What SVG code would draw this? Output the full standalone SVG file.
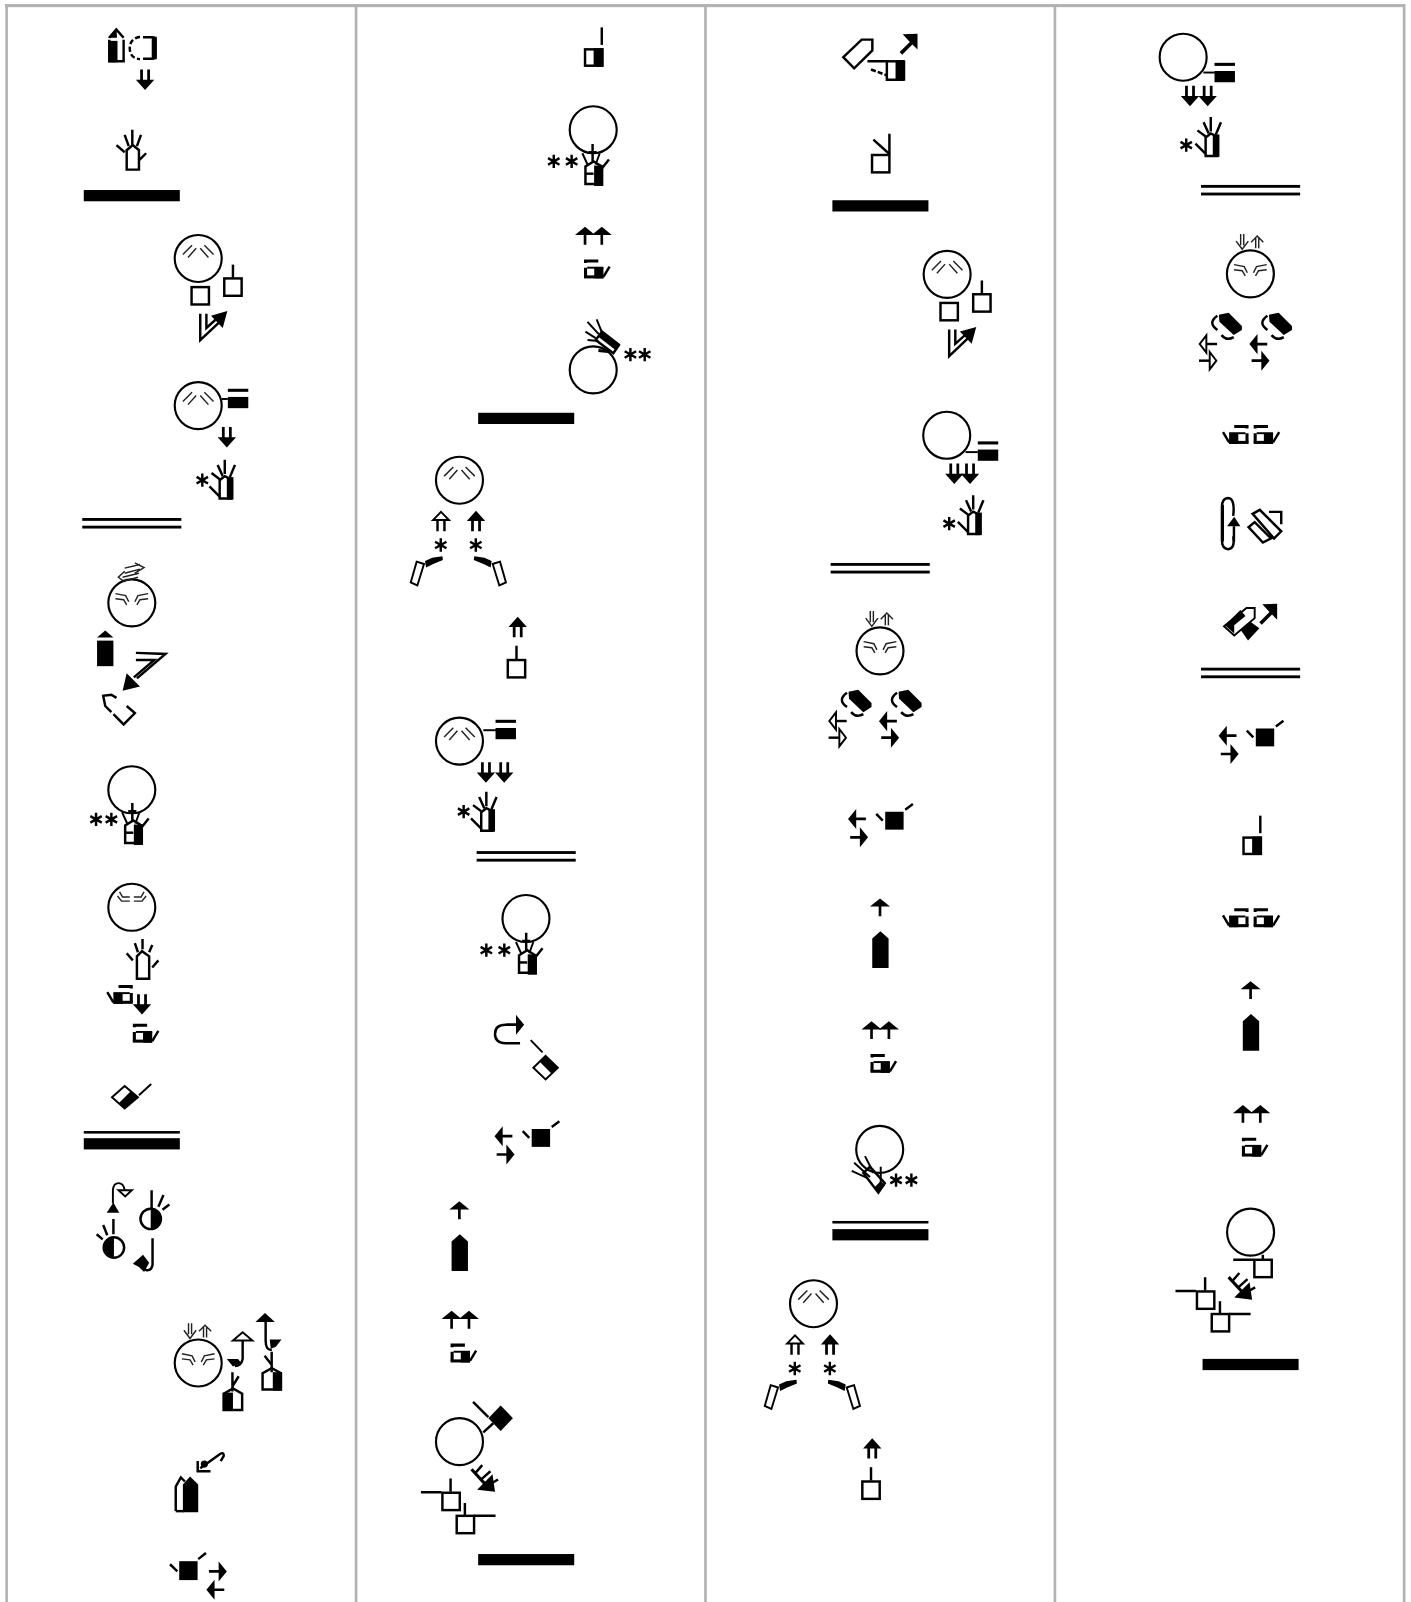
<svg xmlns="http://www.w3.org/2000/svg" width="1411" height="1602" viewBox="0 0 1411 1602">
<style>
.l{stroke:#000;stroke-width:2.4;fill:none}
.m{stroke:#000;stroke-width:1.9;fill:none}
.t{stroke:#222;stroke-width:1.4;fill:none}
.h{stroke:#000;stroke-width:3;fill:none}
.k{fill:#000;stroke:none}
.w{fill:#fff;stroke:#000;stroke-width:1.9}
.g{fill:#b2b2b2;stroke:none}
</style>
<defs>
<circle id="c" r="23" fill="none" stroke="#000" stroke-width="2.1"/>
<g id="fb"><use href="#c"/><path class="t" d="M-15-4L-6-13M-10-1L-2-10M15-4L6-13M10-1L2-10"/></g>
<g id="fc0"><use href="#c"/><path class="t" d="M-16-9L-6-7L-3-1M-16-4L-8-3L-5 2M16-9L6-7L3-1M16-4L8-3L5 2"/></g>
<g id="fc"><use href="#fc0"/>
<g transform="translate(-8,-24)"><path class="t" d="M-1.5-15V-4M1.5-15V-4M-6-8L0 0L6-8"/></g>
<g transform="translate(6.7,-24)"><path class="t" d="M-1.5-1V-11M1.5-1V-11M-6-7L0-13L6-7"/></g></g>
<path id="ar" class="k" d="M-9.8 8L0 0L9.800 8H1.300V17.500H-1.300V8Z"/>
<path id="aa" class="k" d="M-9 10L0 0L9 10H4.800V20H2.100V10H-2.100V20H-4.800V10Z"/>
<g id="aw"><path class="l" d="M-3.400 8V20M3.400 8V20"/><polygon class="w" points="-7.800,9 0,1 7.800,9"/></g>
<path id="st" class="l" d="M0-6.500V6.500M-5.600-3.200L5.600 3.200M-5.600 3.200L5.600-3.200"/>
<g id="sq"><rect class="l" x="1" y="1" width="17" height="17"/></g>
<g id="hh"><path class="l" d="M-6 0V-18L-1-22L5-19V0H-6Z"/><rect class="k" x="1" y="-21" width="6.500" height="22"/>
<path class="l" d="M-1-38V-24M-8-33L-3-22M9-33L4-21M-14-25L-6-19M-16-12L-6-2"/></g>
<g id="he"><path class="l" d="M1-1V-18L9-23L17-18V-1Z"/><rect class="k" x="9.500" y="-19" width="9" height="20"/><path class="l" d="M1-11H9"/>
<path class="l" d="M8-40V-23M4-32H12"/><path class="m" d="M-2-31L3-20M15-31L11-20"/><path class="l" d="M24-25L17-16"/></g>
<g id="hq"><path class="h" d="M0 1.500H14M1.500 0V3.500M1.500 8V17"/><path class="h" d="M0 17H19"/><rect class="k" x="10" y="8" width="9" height="10.500"/><path class="m" d="M3 8H19"/><path class="l" d="M19 17L25 7"/></g>
<polygon id="pb" class="k" points="-8,7 0,0 8,7 8,36 -8,36"/>
<g id="bk"><rect class="k" x="0" y="0" width="20" height="3"/><rect class="k" x="0" y="8" width="20" height="11"/></g>
<path id="ad" class="k" d="M15-14V1.500L10-3.500L0 6.500L-2.500 4L7.500-6L0.500-13.500Z"/>
<g id="bub"><polygon class="k" points="830.500,677 840,675 853,688 853,692 845,697 831,684"/><path class="l" d="M829 678Q819 685 829 692M833 697Q838 703 845 699"/></g>
<g id="dbar"><rect class="k" width="97" height="2.800" y="0"/><rect class="k" width="97" height="2.800" y="7.500"/></g>
<g id="bar"><rect class="k" width="94" height="11"/></g>

<g id="signM">
<use href="#fb" x="449.700" y="470"/><use href="#aw" x="431.600" y="500"/><use href="#aa" x="465.900" y="500"/>
<use href="#st" x="431.400" y="533.400"/><use href="#st" x="465.700" y="533.400"/>
<polygon class="w" points="407.800,549.700 415,552 408.500,573 402,570"/><path class="k" d="M416 549L423 546L433 544.500L433.500 548L424 552L417 555.500Z"/>
<polygon class="w" points="489.400,549.700 482.200,552 488.700,573 495.200,570"/><path class="k" d="M481.200 549L474.200 546L464.200 544.500L463.700 548L473.200 552L480.200 555.500Z"/>
</g>
<g id="signSt"><use href="#aa" x="506.700" y="603.600"/><use href="#sq" x="496" y="645"/><path class="l" d="M505.500 632V645"/></g>
<g id="signP">
<use href="#ar" transform="translate(484,1112) rotate(-90)"/><use href="#ar" transform="translate(503.600,1130) rotate(90)"/>
<rect class="k" x="520.400" y="1105" width="18" height="17.500"/><path class="l" d="M511.600 1107L518 1113.600M540 1103L547.500 1097.500"/>
</g>
<g id="signQ"><use href="#ar" x="449.600" y="1175.800"/><use href="#pb" x="450" y="1208"/></g>
<g id="signR"><use href="#ar" x="442" y="1283"/><use href="#ar" x="459" y="1283"/><use href="#hq" x="441" y="1315"/></g>
<g id="signK"><rect class="l" x="572.600" y="48.300" width="17" height="16"/><rect class="k" x="581" y="47.300" width="9.500" height="18"/><path class="l" d="M589 26.800V44"/></g>
<g id="feath"><path class="h" stroke-width="4" d="M461.500 1438L478 1456"/><path class="k" d="M484.500 1460L467 1458L482 1443Z"/><path class="l" d="M465 1442L472 1434M471 1448L480 1440M477 1454L487.500 1448"/></g>
<g id="twoq"><g transform="translate(1222,416) scale(-1,1)"><use href="#hq"/></g><use href="#hq" x="1227" y="416"/></g>
<g id="signW"><use href="#fc" x="861.300" y="637"/>
<use href="#bub"/><use href="#bub" x="49"/>
<g transform="translate(810.700,705.700) rotate(-90)"><path class="l" d="M0 8V18"/><polygon class="w" points="-8.500,7.500 0,1 8.500,7.500"/></g>
<g transform="translate(829,722) rotate(90)"><path class="l" d="M0 8V18"/><polygon class="w" points="-8.500,7.500 0,1 8.500,7.500"/></g>
<use href="#ar" transform="translate(860.300,705.800) rotate(-90)"/><use href="#ar" transform="translate(880,722) rotate(90)"/>
</g>
<g id="signB"><use href="#fb" x="194" y="253"/><use href="#sq" x="218.500" y="271.500"/><path class="l" d="M228 259V272"/><use href="#sq" x="186.500" y="280"/>
<path class="l" d="M196 307V333L214 316M202 307V321L212 312"/><polygon class="k" points="222.500,304.500 206.500,309 218,321"/></g>
</defs>
<g transform="scale(1.02172)">
<g id="grid"><rect class="g" x="5" y="4" width="1370" height="3"/><rect class="g" x="5.200" y="4" width="2.600" height="1564"/><rect class="g" x="347.200" y="4" width="2.600" height="1564"/><rect class="g" x="689.200" y="4" width="2.600" height="1564"/><rect class="g" x="1031.200" y="4" width="2.600" height="1564"/><rect class="g" x="1373" y="4" width="2.600" height="1564"/></g>

<g id="c1-a"><path class="l" d="M107 37L114 29L121 37M121 39V60H107V39"/><rect class="k" x="106" y="40" width="9" height="21"/><polygon class="k" points="105.500,37 114,27 114.500,37"/>
<path class="l" d="M137 36Q127 38 127 47Q127 57 137 58" stroke-dasharray="5 2.500"/><path class="l" d="M140 36.500H149Q152 36.500 152 40V54Q152 57.500 149 57.500H140"/><rect class="k" x="148.500" y="36" width="5" height="22"/>
<g transform="translate(142,88) rotate(180)"><use href="#aa"/></g>
<path class="l" d="M124 166V147L130 142L136 147V166H124ZM129.500 127V142M122 132L126 143M138 132L134 143M114 142L122 149M143 150L136 157"/></g>
<use href="#bar" x="82" y="186"/>
<use href="#signB"/>
<g id="c1-c"><use href="#fb" x="194" y="397"/><use href="#bk" x="223" y="380.500"/><path class="m" d="M217 390.500H223"/><g transform="translate(222,438) rotate(180)"><use href="#aa"/></g><use href="#st" x="198" y="470"/><use href="#hh" x="221" y="488"/></g>
<use href="#dbar" x="80.500" y="507"/>
<g id="c1-d"><use href="#fc0" x="129" y="590"/>
<path class="t" d="M122 556L137 552.500M122 561L137 557M132 551L141 555.500L132 561M120 565L136 561M120 569L135 565M122 559L115.800 565L122 569.500"/>
<polygon class="k" points="95,624 103,617 111,624"/><rect class="k" x="95" y="627" width="16" height="25"/>
<path class="l" d="M133 639L162 640L134 664M133 646L151 646L131 663"/><polygon class="k" points="120,676 124,659 137,672"/>
<path class="l" d="M114 683L109 680L101 681L103 691L109 697M111 699L121 709L132 698L124 691"/></g>
<g id="c1-e"><use href="#c" x="129" y="773"/><use href="#st" x="94" y="802"/><use href="#st" x="109" y="802"/><use href="#he" x="121.500" y="826"/></g>
<g id="c1-f"><use href="#c" x="129" y="888"/><path class="t" d="M115 877L119 882H127M143 877L139 882H131M117 873L120 878H127M141 873L138 878H131"/>
<path class="l" d="M134 958V936L139 931L146 936V958ZM139.500 919V929M132 923L135 932M124 933L130 940M149 925L146 932M155 940L149 947"/>
<g transform="translate(130,964) scale(-1,1)"><use href="#hq"/></g><g transform="translate(139,993) rotate(180)"><use href="#aa"/></g><use href="#hq" x="130" y="1002"/>
<polygon class="w" points="122,1063 135,1074 122,1085 109.600,1074" stroke-width="2.400"/><polygon class="k" points="135,1074 122,1085 116,1080 128,1068"/><path class="m" d="M136 1072L148 1061"/></g>
<rect class="k" x="82" y="1107" width="94" height="2.500"/><use href="#bar" x="82" y="1114"/>
<g id="c1-g"><polygon class="k" points="104.400,1187 111,1177 116.700,1187"/><path class="m" d="M110.500 1178V1165Q111 1158 116 1158Q121 1158 122 1165"/><polygon class="w" points="116,1165 129,1165 122.500,1171"/>
<circle class="l" cx="147.500" cy="1193" r="10"/><path class="k" d="M147.500 1183A10 10 0 0 1 147.500 1203Z"/><path class="l" d="M148.400 1165V1182.700M160 1169.600L155 1181M165.800 1179L159 1184"/>
<circle class="l" cx="111.500" cy="1221" r="10"/><path class="k" d="M111.500 1211A10 10 0 0 0 111.500 1231Z"/><path class="l" d="M111 1193V1208M101 1199L105 1209M94.600 1208L100.500 1213"/>
<path class="l" d="M149.300 1212V1238Q148 1244 143 1243L140 1241"/><polygon class="k" points="130,1237 140,1228 146,1236 141,1245 136,1240"/></g>
<g id="c1-h"><use href="#fc" x="194" y="1334"/>
<path class="l" d="M237.500 1312V1330Q236 1337 230 1337"/><polygon class="w" points="228,1312 237.500,1304 247,1312"/><polygon class="k" points="222,1330 233,1330 236,1334 228,1337.500"/>
<path class="l" d="M260 1293V1312Q260 1322 266 1321"/><polygon class="k" points="250,1294 259.400,1285 269,1294"/><polygon class="k" points="264,1311 275.500,1311 270,1318 265,1320"/>
<path class="l" d="M257 1360V1344L266 1339L275 1344V1360Z"/><rect class="k" x="267" y="1343" width="9" height="18"/><path class="l" d="M265.900 1323V1343M259 1327L266 1336"/>
<path class="l" d="M219 1380V1364L228 1359L237 1364V1380Z"/><rect class="k" x="218" y="1363" width="10" height="18"/><path class="l" d="M227.500 1343V1362M233.600 1347L227.500 1357"/></g>
<g id="c1-i"><path class="l" d="M172 1479V1455L177 1446L181 1450"/><path class="l" d="M172 1479H180"/><polygon class="k" points="179,1453 186,1445 194,1453 194,1480 179,1480"/>
<path class="l" d="M193.500 1430V1440H206M196 1437L214 1424Q219 1420 219 1425L216 1430"/><circle class="k" cx="200" cy="1433" r="3.500"/></g>
<g id="c1-j"><rect class="k" x="175.400" y="1528" width="18" height="18.500"/><path class="l" d="M166.400 1531L173.600 1538M194 1526L201.600 1520"/><use href="#ar" transform="translate(222,1538) rotate(90)"/><use href="#ar" transform="translate(202,1556) rotate(-90)"/></g>

<use href="#signK"/>
<g id="c2-b"><use href="#c" x="580.600" y="127"/><use href="#st" x="542" y="158"/><use href="#st" x="559.500" y="158"/><use href="#he" x="572" y="181"/></g>
<g id="c2-c"><use href="#ar" x="572.600" y="222"/><use href="#ar" x="589" y="222"/><use href="#hq" x="571.600" y="254"/></g>
<g id="c2-d"><use href="#c" x="580.600" y="362"/><use href="#st" x="617" y="347"/><use href="#st" x="631" y="347"/>
<polygon class="l" points="589,325 605.800,337.700 600.300,345.800 583,332.800"/><polygon class="k" points="589,323 607,337 603,343 585,329"/>
<path class="m" d="M575 315L586 327M584 312.500L589 325M573 324.600L583 331M575 332.800L585.700 333.800"/><path class="h" d="M585.700 343L595 344"/></g>
<use href="#bar" x="468" y="404"/>
<use href="#signM"/>
<use href="#signSt"/>
<g id="c2-g"><use href="#fb" x="449.700" y="725.300"/><use href="#bk" x="485" y="704.500"/><path class="m" d="M473 714.700H486"/>
<g transform="translate(475.600,766) rotate(180)"><use href="#aa"/></g><g transform="translate(493.500,766) rotate(180)"><use href="#aa"/></g><use href="#st" x="453.800" y="794.400"/><use href="#hh" x="477" y="813"/></g>
<use href="#dbar" x="466.500" y="833"/>
<g id="c2-h"><use href="#c" x="514.800" y="899"/><use href="#st" x="476" y="930"/><use href="#st" x="493.600" y="930"/><use href="#he" x="507" y="953"/></g>
<g id="c2-i"><path class="l" stroke-width="2.600" d="M509 1021H495Q484.500 1021 484.500 1012Q484.500 1003 495 1003H505"/><use href="#ar" transform="translate(513,1003) rotate(90)"/><path class="m" d="M519.400 1018L531 1030"/>
<polygon class="w" points="534,1033.500 546,1045 534,1056.500 522,1045" stroke-width="2.400"/><polygon class="k" points="534,1033 546.500,1045 540,1051 528,1039"/></g>
<use href="#signP"/>
<use href="#signQ"/>
<use href="#signR"/>
<g id="c2-s"><use href="#c" x="449.700" y="1411"/><polygon class="k" points="490,1375.500 502,1388 490,1400.500 478,1388"/><path class="l" d="M463 1372L478 1387M473 1402L482.800 1393"/>
<use href="#feath"/>
<g id="sq1"><use href="#sq" x="432" y="1460"/><path class="l" d="M412 1460.500H432M441 1447V1460"/></g>
<g id="sq2"><use href="#sq" x="446" y="1482.600"/><path class="l" d="M464 1483.500H485M455 1471V1483"/></g></g>
<use href="#bar" x="468" y="1521"/>

<g id="c3-a"><polygon class="l" points="825.400,56 843.400,38.800 853.800,38.800 853.800,49.300 836,66.800"/>
<use href="#ad" x="883" y="47"/>
<path class="l" d="M849 60H868V78H885"/><path class="l" d="M868 60H885"/><rect class="k" x="876.500" y="59" width="9.500" height="20"/><path class="l" d="M852.500 68L867.800 73.700" stroke-dasharray="5 2"/></g>
<g id="c3-b"><use href="#sq" x="852.500" y="150.700"/><path class="l" d="M870.500 130.800V151M854.800 136.600L870.500 150.700"/></g>
<use href="#bar" x="814.700" y="196"/>
<use href="#signB" transform="translate(733,15.500)"/>
<g id="c3-d"><use href="#c" x="926.600" y="426"/><use href="#bk" x="957" y="432"/><path class="m" d="M945 442.500H957"/>
<g transform="translate(934,473.700) rotate(180)"><use href="#aa"/></g><g transform="translate(949.400,473.700) rotate(180)"><use href="#aa"/></g><use href="#st" x="929" y="512.500"/><use href="#hh" x="953.500" y="522.700"/></g>
<use href="#dbar" x="813" y="551"/>
<use href="#signW"/>
<use href="#signP" transform="translate(346,-310.500)"/>
<use href="#signQ" transform="translate(411.700,-296.500)"/>
<use href="#signR" transform="translate(411,-283.500)"/>
<g id="c3-e"><use href="#c" x="861" y="1125"/><use href="#st" x="877" y="1155"/><use href="#st" x="892" y="1155"/>
<polygon class="l" points="845,1148 859.700,1167.300 866,1158 851.500,1142"/><polygon class="k" points="849,1152 859.700,1168 866,1160 862,1156 856,1162"/>
<path class="m" d="M833.600 1146L849 1153M836 1138L851.500 1152M846.600 1131.600L855 1148M862 1142V1158"/></g>
<rect class="k" x="814.700" y="1195" width="94" height="2.500"/><use href="#bar" x="814.700" y="1203"/>
<use href="#signM" transform="translate(346.500,806)"/>
<use href="#signSt" transform="translate(347,804)"/>

<g id="c4-a"><use href="#c" x="1158" y="56"/><use href="#bk" x="1188.700" y="61.500"/><path class="m" d="M1177.800 71H1189"/>
<g transform="translate(1164.700,104) rotate(180)"><use href="#aa"/></g><g transform="translate(1182,104) rotate(180)"><use href="#aa"/></g><use href="#st" x="1161" y="142"/><use href="#hh" x="1186" y="152.600"/></g>
<use href="#dbar" x="1175.500" y="181"/>
<use href="#signW" transform="translate(362.500,-369)"/>
<use href="#twoq"/>
<g id="c4-c"><path class="l" d="M1207 505Q1209 488 1202 487.500Q1196 488 1196 496V529Q1196 537 1202 537.500Q1209 537 1207 525"/><rect class="k" x="1195" y="494" width="3" height="36"/><polygon class="k" points="1201,515 1208,505.700 1214,515"/><path class="l" d="M1207.700 515V530"/>
<path class="l" d="M1226 503L1233 499L1254 520L1247 527ZM1242 501H1254V513M1222 516L1228 511L1244 527L1236 531Z"/></g>
<g id="c4-d"><polygon class="k" points="1211.700,612.700 1221.500,606.800 1232.600,615 1221.500,627"/><polygon class="w" points="1198,613 1220,595 1228,595 1228,605 1208,622"/><polygon class="k" points="1199,612 1214,597 1219,603 1208,612 1208,620"/><use href="#ad" x="1235" y="605"/></g>
<use href="#dbar" x="1175.500" y="653.500"/>
<use href="#signP" transform="translate(708.700,-392)"/>
<use href="#signK" transform="translate(644.500,771.500)"/>
<use href="#twoq" y="473"/>
<use href="#signQ" transform="translate(774.400,-215.500)"/>
<use href="#signR" transform="translate(774.500,-201.500)"/>
<g id="c4-e"><use href="#c" x="1224" y="1206"/><use href="#sq" x="1226.700" y="1232"/><path class="l" d="M1207 1233H1227M1236 1228V1233"/>
<use href="#feath" transform="translate(741,-188)"/>
<use href="#sq1" transform="translate(738.500,-197)"/><use href="#sq2" transform="translate(739,-197.500)"/></g>
<use href="#bar" x="1177" y="1330"/>
</g>
</svg>
